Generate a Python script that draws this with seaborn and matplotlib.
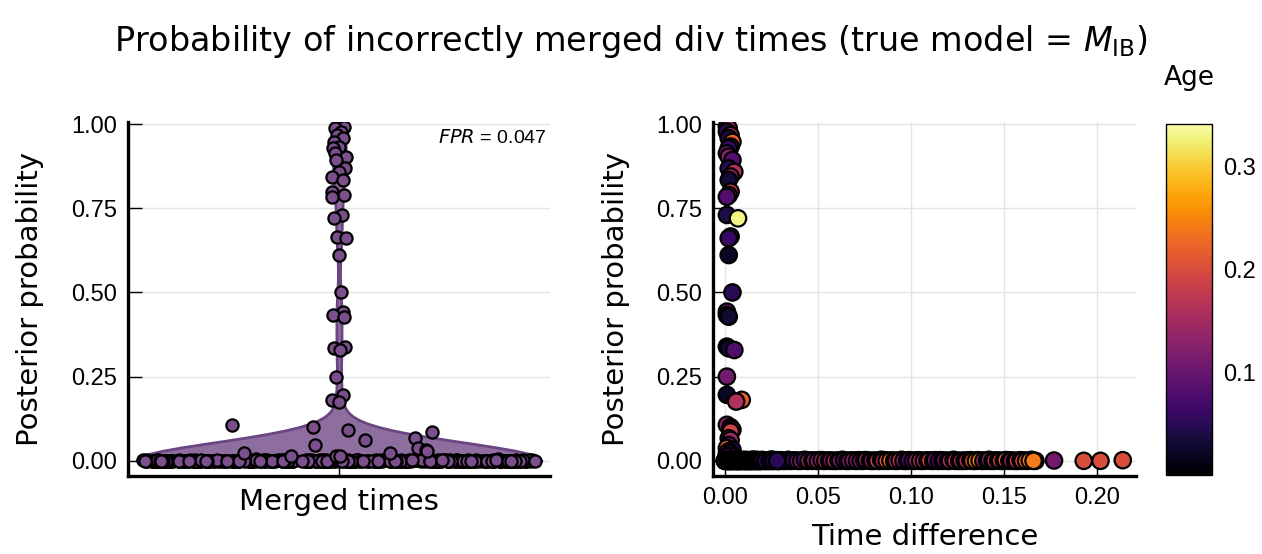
import numpy as np
import pandas as pd
import matplotlib
matplotlib.use("Agg")
import matplotlib.pyplot as plt
from matplotlib import font_manager
import seaborn as sns

# ---------------- data ----------------
# points with a clearly non-zero posterior probability
upper_prob = [
    0.992, 0.987, 0.977, 0.967, 0.958, 0.947, 0.933, 0.928, 0.913, 0.903,
    0.893, 0.868, 0.858, 0.844, 0.834, 0.799, 0.789, 0.784, 0.730, 0.720,
    0.666, 0.661, 0.611, 0.500, 0.443, 0.433, 0.428, 0.339, 0.334, 0.329,
    0.250, 0.196, 0.181, 0.176, 0.107, 0.100, 0.092, 0.087, 0.067, 0.062,
    0.047, 0.038, 0.033, 0.028, 0.023, 0.023, 0.013, 0.013, 0.013,
]
upper_tdiff = [
    0.001, 0.002, 0.001, 0.003, 0.002, 0.004, 0.003, 0.002, 0.001, 0.002,
    0.004, 0.002, 0.005, 0.003, 0.002, 0.003, 0.002, 0.001, 0.001, 0.007,
    0.003, 0.002, 0.002, 0.004, 0.001, 0.001, 0.002, 0.001, 0.002, 0.005,
    0.001, 0.001, 0.009, 0.006, 0.001, 0.003, 0.004, 0.003, 0.002, 0.003,
    0.002, 0.001, 0.004, 0.002, 0.001, 0.003, 0.002, 0.004, 0.001,
]
upper_age = [
    0.12, 0.14, 0.05, 0.15, 0.04, 0.22, 0.12, 0.06, 0.10, 0.13,
    0.08, 0.05, 0.16, 0.14, 0.03, 0.18, 0.21, 0.08, 0.04, 0.33,
    0.08, 0.06, 0.02, 0.05, 0.11, 0.04, 0.03, 0.01, 0.03, 0.08,
    0.11, 0.02, 0.22, 0.16, 0.13, 0.03, 0.17, 0.19, 0.12, 0.15,
    0.09, 0.21, 0.06, 0.10, 0.14, 0.04, 0.07, 0.18, 0.05,
]
# points with posterior probability ~ 0
zero_prob = [
    0.000, 0.001, 0.000, 0.002, 0.000, 0.001, 0.003, 0.000, 0.001, 0.000,
    0.002, 0.000, 0.001, 0.000, 0.004, 0.000, 0.001, 0.002, 0.000, 0.001,
    0.000, 0.003, 0.000, 0.001, 0.000, 0.002, 0.000, 0.001, 0.000, 0.002,
    0.001, 0.000, 0.002, 0.000, 0.001, 0.000, 0.003, 0.000, 0.001, 0.000,
    0.000, 0.002, 0.000, 0.001, 0.000, 0.001, 0.000, 0.004, 0.000, 0.001,
    0.002, 0.000, 0.001, 0.000, 0.000, 0.003, 0.000, 0.001, 0.000, 0.002,
    0.000, 0.001, 0.000, 0.002, 0.000, 0.001, 0.000, 0.000, 0.003, 0.000,
    0.001, 0.000, 0.002, 0.000, 0.001, 0.000, 0.000, 0.002, 0.000, 0.001,
    0.000, 0.003, 0.000, 0.001, 0.000, 0.002, 0.000, 0.001, 0.000, 0.000,
    0.002, 0.000, 0.001, 0.000, 0.000, 0.001, 0.000, 0.002, 0.000, 0.001,
    0.000, 0.001, 0.000, 0.002, 0.000, 0.000, 0.001, 0.000, 0.003, 0.000,
    0.001, 0.000, 0.000, 0.002,
    0.000, 0.001, 0.000, 0.000, 0.002, 0.000, 0.001, 0.000, 0.000, 0.003,
    0.001, 0.000, 0.000, 0.002, 0.000, 0.001, 0.000, 0.000, 0.001, 0.000,
    0.000, 0.002, 0.000, 0.001, 0.000, 0.000, 0.003, 0.000, 0.001, 0.000,
    0.001, 0.000, 0.000, 0.002, 0.000, 0.001, 0.000, 0.000, 0.002, 0.000,
    0.000, 0.001, 0.000, 0.000, 0.003, 0.000, 0.001, 0.000, 0.000, 0.002,
    0.002, 0.000, 0.001, 0.000, 0.000, 0.001, 0.000, 0.002, 0.000, 0.000,
    0.000, 0.000, 0.002, 0.000, 0.001, 0.000, 0.000, 0.003, 0.000, 0.001,
    0.001, 0.000, 0.000, 0.001, 0.000, 0.002, 0.000, 0.000, 0.001, 0.000,
    0.000, 0.003, 0.000, 0.000, 0.001, 0.000, 0.002, 0.000, 0.000, 0.001,
    0.000, 0.001, 0.000, 0.002, 0.000, 0.000, 0.001, 0.000, 0.000, 0.002,
    0.002, 0.000, 0.000, 0.001, 0.000, 0.003, 0.000, 0.000, 0.001, 0.000,
    0.000, 0.001, 0.000, 0.000, 0.002, 0.000, 0.001, 0.000, 0.000, 0.001,
    0.001, 0.000, 0.002, 0.000, 0.000, 0.001, 0.000, 0.000, 0.003, 0.000,
    0.000, 0.000, 0.001, 0.000, 0.002, 0.000, 0.000, 0.001, 0.000, 0.000,
    0.003, 0.000, 0.000, 0.001, 0.000, 0.000, 0.002, 0.000, 0.001, 0.000,
    0.000, 0.002, 0.000, 0.000, 0.001, 0.000, 0.000, 0.001, 0.000, 0.002,
    0.001, 0.000, 0.000, 0.002, 0.000, 0.001, 0.000, 0.000, 0.001, 0.000,
    0.000, 0.001, 0.000, 0.000, 0.002, 0.000, 0.003, 0.000, 0.000, 0.001,
    0.000, 0.000, 0.001, 0.000, 0.000, 0.002, 0.000, 0.001, 0.000, 0.000,
]
zero_tdiff = [
    0.000, 0.000, 0.001, 0.001, 0.001, 0.002, 0.002, 0.002, 0.003, 0.003,
    0.003, 0.004, 0.004, 0.005, 0.005, 0.006, 0.006, 0.007, 0.007, 0.008,
    0.008, 0.009, 0.009, 0.010, 0.010, 0.011, 0.011, 0.012, 0.012, 0.013,
    0.013, 0.014, 0.015, 0.015, 0.016, 0.016, 0.017, 0.018, 0.018, 0.019,
    0.020, 0.020, 0.021, 0.022, 0.022, 0.023, 0.024, 0.025, 0.026, 0.027,
    0.028, 0.029, 0.030, 0.031, 0.033, 0.034, 0.036, 0.038, 0.040, 0.042,
    0.044, 0.046, 0.049, 0.051, 0.053, 0.055, 0.058, 0.060, 0.063, 0.065,
    0.068, 0.070, 0.072, 0.074, 0.077, 0.080, 0.083, 0.086, 0.088, 0.090,
    0.093, 0.095, 0.097, 0.100, 0.102, 0.104, 0.106, 0.108, 0.111, 0.114,
    0.116, 0.119, 0.122, 0.125, 0.128, 0.131, 0.134, 0.136, 0.138, 0.140,
    0.143, 0.146, 0.149, 0.152, 0.155, 0.158, 0.161, 0.163, 0.165, 0.167,
    0.177, 0.193, 0.202, 0.214,
    0.000, 0.001, 0.001, 0.002, 0.002, 0.003, 0.003, 0.004, 0.004, 0.005,
    0.005, 0.006, 0.006, 0.007, 0.007, 0.008, 0.008, 0.009, 0.009, 0.010,
    0.000, 0.001, 0.002, 0.003, 0.004, 0.005, 0.006, 0.007, 0.008, 0.009,
    0.010, 0.011, 0.012, 0.013, 0.014, 0.015, 0.016, 0.017, 0.018, 0.019,
    0.011, 0.012, 0.013, 0.014, 0.015, 0.016, 0.017, 0.018, 0.019, 0.020,
    0.020, 0.021, 0.022, 0.023, 0.024, 0.025, 0.026, 0.027, 0.028, 0.029,
    0.001, 0.003, 0.005, 0.007, 0.009, 0.011, 0.013, 0.015, 0.017, 0.019,
    0.021, 0.023, 0.025, 0.027, 0.029, 0.030, 0.032, 0.035, 0.037, 0.039,
    0.041, 0.043, 0.045, 0.047, 0.048, 0.050, 0.052, 0.054, 0.056, 0.057,
    0.059, 0.061, 0.062, 0.064, 0.066, 0.067, 0.069, 0.071, 0.073, 0.075,
    0.076, 0.078, 0.079, 0.081, 0.082, 0.084, 0.085, 0.087, 0.089, 0.091,
    0.092, 0.094, 0.096, 0.098, 0.099, 0.101, 0.103, 0.105, 0.107, 0.109,
    0.110, 0.112, 0.113, 0.115, 0.117, 0.118, 0.120, 0.121, 0.123, 0.124,
    0.126, 0.127, 0.129, 0.130, 0.132, 0.133, 0.135, 0.137, 0.139, 0.141,
    0.142, 0.144, 0.145, 0.147, 0.148, 0.150, 0.151, 0.153, 0.154, 0.156,
    0.157, 0.159, 0.160, 0.162, 0.164, 0.166, 0.002, 0.004, 0.006, 0.008,
    0.010, 0.012, 0.014, 0.016, 0.018, 0.000, 0.001, 0.002, 0.003, 0.004,
    0.005, 0.006, 0.007, 0.008, 0.009, 0.010, 0.011, 0.012, 0.013, 0.014,
    0.015, 0.016, 0.017, 0.018, 0.019, 0.020, 0.022, 0.024, 0.026, 0.028,
]
zero_age = [
    0.03, 0.06, 0.02, 0.08, 0.04, 0.01, 0.05, 0.09, 0.03, 0.02,
    0.07, 0.06, 0.02, 0.04, 0.01, 0.05, 0.03, 0.02, 0.06, 0.04,
    0.01, 0.03, 0.05, 0.02, 0.04, 0.01, 0.06, 0.02, 0.03, 0.05,
    0.01, 0.02, 0.04, 0.01, 0.03, 0.02, 0.05, 0.03, 0.02, 0.04,
    0.03, 0.05, 0.02, 0.04, 0.06, 0.03, 0.05, 0.02, 0.04, 0.07,
    0.03, 0.06, 0.04, 0.05, 0.07, 0.06, 0.09, 0.12, 0.17, 0.19,
    0.14, 0.12, 0.13, 0.11, 0.14, 0.16, 0.17, 0.08, 0.07, 0.09,
    0.10, 0.12, 0.13, 0.12, 0.15, 0.18, 0.19, 0.16, 0.22, 0.27,
    0.17, 0.13, 0.12, 0.07, 0.08, 0.15, 0.16, 0.14, 0.24, 0.29,
    0.15, 0.06, 0.17, 0.16, 0.15, 0.17, 0.19, 0.25, 0.14, 0.13,
    0.12, 0.16, 0.21, 0.31, 0.15, 0.13, 0.19, 0.20, 0.22, 0.25,
    0.11, 0.20, 0.20, 0.20,
    0.02, 0.04, 0.06, 0.01, 0.03, 0.05, 0.02, 0.07, 0.04, 0.03,
    0.01, 0.05, 0.03, 0.02, 0.06, 0.04, 0.01, 0.03, 0.05, 0.02,
    0.04, 0.02, 0.05, 0.03, 0.01, 0.06, 0.02, 0.04, 0.03, 0.05,
    0.02, 0.03, 0.01, 0.04, 0.02, 0.05, 0.03, 0.01, 0.04, 0.02,
    0.03, 0.01, 0.04, 0.02, 0.05, 0.03, 0.02, 0.04, 0.01, 0.03,
    0.05, 0.02, 0.04, 0.03, 0.06, 0.02, 0.05, 0.03, 0.04, 0.06,
    0.03, 0.05, 0.02, 0.04, 0.01, 0.03, 0.06, 0.02, 0.04, 0.05,
    0.03, 0.06, 0.04, 0.05, 0.07, 0.06, 0.08, 0.05, 0.07, 0.09,
    0.12, 0.08, 0.15, 0.10, 0.13, 0.14, 0.12, 0.16, 0.18, 0.11,
    0.17, 0.09, 0.13, 0.08, 0.10, 0.12, 0.14, 0.13, 0.11, 0.15,
    0.14, 0.16, 0.12, 0.18, 0.19, 0.17, 0.15, 0.21, 0.24, 0.20,
    0.13, 0.18, 0.12, 0.10, 0.09, 0.07, 0.14, 0.16, 0.15, 0.18,
    0.20, 0.26, 0.12, 0.08, 0.07, 0.10, 0.15, 0.16, 0.17, 0.18,
    0.16, 0.15, 0.18, 0.17, 0.19, 0.20, 0.24, 0.26, 0.14, 0.13,
    0.12, 0.17, 0.16, 0.15, 0.19, 0.28, 0.22, 0.13, 0.14, 0.12,
    0.19, 0.21, 0.20, 0.22, 0.25, 0.24, 0.03, 0.05, 0.02, 0.04,
    0.03, 0.01, 0.04, 0.02, 0.05, 0.02, 0.04, 0.06, 0.03, 0.01,
    0.05, 0.02, 0.03, 0.04, 0.01, 0.06, 0.02, 0.03, 0.05, 0.04,
    0.02, 0.03, 0.05, 0.01, 0.04, 0.03, 0.06, 0.02, 0.04, 0.05,
]
y_ticks = [0.0, 0.25, 0.5, 0.75, 1.0]
y_tick_labels = ["0.00", "0.25", "0.50", "0.75", "1.00"]
x_ticks_right = [0.0, 0.05, 0.10, 0.15, 0.20]
x_tick_labels_right = ["0.00", "0.05", "0.10", "0.15", "0.20"]
cbar_ticks = [0.1, 0.2, 0.3]
cbar_tick_labels = ["0.1", "0.2", "0.3"]
age_range = (0.0, 0.341)
fpr_value = "0.047"

title_text = r"Probability of incorrectly merged div times (true model = $M_{\mathrm{IB}}$)"

# ---------------- style ----------------
sns.set_theme(style="white")
names = {f.name for f in font_manager.fontManager.ttflist}
narrow = "Liberation Sans Narrow" if "Liberation Sans Narrow" in names else "DejaVu Sans"
plt.rcParams["font.family"] = ["Liberation Sans", "DejaVu Sans"]
plt.rcParams["mathtext.fontset"] = "dejavusans"
for k in ("text.color", "axes.labelcolor", "xtick.color", "ytick.color"):
    plt.rcParams[k] = "black"

violin_fill = "#8e6e9e"
violin_edge = "#6c4683"
point_col = "#7a4f8c"

n = min(len(zero_prob), len(zero_tdiff), len(zero_age))
df = pd.DataFrame({
    "prob": upper_prob + zero_prob[:n],
    "tdiff": upper_tdiff + zero_tdiff[:n],
    "age": upper_age + zero_age[:n],
})

fig = plt.figure(figsize=(12.62, 5.54), dpi=100)
ax1 = fig.add_axes([0.1014, 0.1408, 0.3344, 0.639])
ax2 = fig.add_axes([0.565, 0.1408, 0.335, 0.639])
cax = fig.add_axes([0.924, 0.1426, 0.0365, 0.6336])

# ---- left: violin + dots ----
std = np.std(df["prob"], ddof=1)
sns.violinplot(data=df, y="prob", ax=ax1, cut=0, inner=None, width=0.96,
               bw_method=0.053 / std, color=violin_fill, linecolor=violin_edge,
               linewidth=2, saturation=1)
np.random.seed(7)
low = df[df["prob"] < 0.008]
mid = df[(df["prob"] >= 0.008) & (df["prob"] < 0.12)]
high = df[df["prob"] >= 0.12]
for sub, jit in ((low, 0.465), (mid, 0.28), (high, 0.018)):
    sns.stripplot(data=sub, y="prob", ax=ax1, jitter=jit, color=point_col,
                  edgecolor="black", linewidth=1.6, size=8.8)

ax1.set_xlim(-0.5, 0.5)
ax1.set_xticks([0])
ax1.set_xticklabels([])
ax1.set_xlabel("Merged times", fontsize=21, family=narrow, labelpad=1)
ax1.text(0.993, 0.955, r"$\mathit{FPR}$ = " + fpr_value, transform=ax1.transAxes,
         ha="right", va="center", fontsize=14)

# ---- right: scatter coloured by age ----
sns.scatterplot(data=df, x="tdiff", y="prob", hue="age", palette="inferno",
                hue_norm=age_range, s=140, edgecolor="black", linewidth=1.6,
                legend=False, ax=ax2, zorder=3)
ax2.set_xlim(-0.00645, 0.221)
ax2.set_xticks(x_ticks_right)
ax2.set_xticklabels(x_tick_labels_right)
ax2.set_xlabel("Time difference", fontsize=21, family=narrow, labelpad=10)

for ax in (ax1, ax2):
    ax.set_ylim(-0.045, 1.006)
    ax.set_yticks(y_ticks)
    ax.set_yticklabels(y_tick_labels)
    ax.set_ylabel("Posterior probability", fontsize=21, family=narrow, labelpad=19)
    for s in ("top", "right"):
        ax.spines[s].set_visible(False)
    for s in ("left", "bottom"):
        ax.spines[s].set_linewidth(2.4)
        ax.spines[s].set_color("black")
    ax.grid(True, color="#e4e4e4", linewidth=1)
    ax.set_axisbelow(True)
    ax.tick_params(direction="in", length=10, width=1, color="black",
                   labelsize=17, pad=8, left=True, bottom=True)

# ---- colorbar ----
sm = plt.cm.ScalarMappable(norm=plt.Normalize(*age_range), cmap="inferno")
cbar = fig.colorbar(sm, cax=cax)
cbar.set_ticks(cbar_ticks)
cbar.set_ticklabels(cbar_tick_labels)
cbar.outline.set_linewidth(1)
cbar.outline.set_edgecolor("black")
cax.tick_params(direction="in", length=12, width=1, color="#888888",
                left=True, right=True, labelsize=17, pad=8)
cax.set_title("Age", fontsize=19, family=narrow, pad=28)

fig.suptitle(title_text, fontsize=24, family=narrow, y=0.925, va="center")

fig.savefig("out.png", dpi=100)
